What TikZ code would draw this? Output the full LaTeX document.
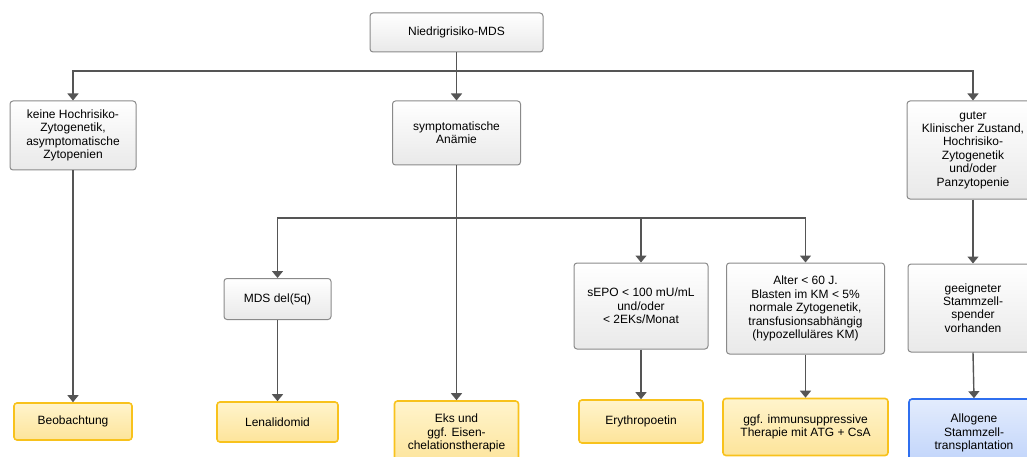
\documentclass[tikz,border=0pt]{standalone}
\usepackage{fontspec}
\setmainfont{Liberation Sans}
\usetikzlibrary{arrows.meta}

\definecolor{lineGrey}{HTML}{555555}
\definecolor{boxBorder}{HTML}{8A8A8A}
\definecolor{boxFill}{HTML}{E9E9E9}
\definecolor{yellowBorder}{HTML}{F8C21C}
\definecolor{yellowTop}{HTML}{FFF4CC}
\definecolor{yellowBottom}{HTML}{FDE49A}
\definecolor{blueBorder}{HTML}{2F6FEF}
\definecolor{blueTop}{HTML}{E3ECFD}
\definecolor{blueBottom}{HTML}{BFD3FA}

\begin{document}
\begin{tikzpicture}
[x=1pt,y=-1pt,
  boxDecorate/.style={shape=rectangle,rounded corners=3pt,draw=boxBorder,line width=1pt,
    top color=white,bottom color=boxFill,align=center,inner sep=2pt,
    font=\fontsize{12}{13.4}\selectfont},
  yellowDecorate/.style={boxDecorate,draw=yellowBorder,line width=1.6pt,
    top color=yellowTop,bottom color=yellowBottom},
  blueDecorate/.style={boxDecorate,draw=blueBorder,line width=1.6pt,
    top color=blueTop,bottom color=blueBottom},
  lineDecorate/.style={-{Triangle[width=11pt,length=7pt]},line width=1.4pt,draw=lineGrey},
  busDecorate/.style={-,line width=1.4pt,draw=lineGrey}]
\useasboundingbox (0,0) rectangle (1027,457);
\clip (0,0) rectangle (1027,457);
%% decision boxes
\node (root) at (456.5,32.5) [boxDecorate,minimum width=173pt,minimum height=39pt] {Niedrigrisiko-MDS};
\node (keine) at (73,135.5) [boxDecorate,minimum width=126pt,minimum height=69pt]
  {keine Hochrisiko-\\Zytogenetik,\\asymptomatische\\Zytopenien};
\node (sympt) at (456.5,133) [boxDecorate,minimum width=128pt,minimum height=64pt]
  {symptomatische\\An\"amie};
\node (guter) at (973,150) [boxDecorate,minimum width=132pt,minimum height=98pt]
  {guter\\Klinischer Zustand,\\Hochrisiko-\\Zytogenetik\\und/oder\\Panzytopenie};
\node (del5q) at (277.5,299) [boxDecorate,minimum width=107pt,minimum height=41pt] {MDS del(5q)};
\node (sepo) at (641,306) [boxDecorate,minimum width=134pt,minimum height=86pt]
  {sEPO < 100 mU/mL\\und/oder\\< 2EKs/Monat};
\node (alter) at (805.5,308.5) [boxDecorate,minimum width=158pt,minimum height=91pt]
  {Alter < 60 J.\\Blasten im KM < 5\%\\normale Zytogenetik,\\transfusionsabh\"angig\\(hypozellul\"ares KM)};
\node (geeig) at (973,308) [boxDecorate,minimum width=130pt,minimum height=88pt]
  {geeigneter\\Stammzell-\\spender\\vorhanden};
%% therapy boxes
\node (beob) at (73,421.5) [yellowDecorate,minimum width=118pt,minimum height=37pt] {Beobachtung};
\node (lenal) at (277.5,422) [yellowDecorate,minimum width=121pt,minimum height=40pt] {Lenalidomid};
\node (eks) at (456.5,433) [yellowDecorate,minimum width=124pt,minimum height=64pt]
  {Eks und\\ggf. Eisen-\\chelationstherapie};
\node (ery) at (641,421.5) [yellowDecorate,minimum width=124pt,minimum height=43pt] {Erythropoetin};
\node (immun) at (805.5,427) [yellowDecorate,minimum width=165pt,minimum height=57pt]
  {ggf. immunsuppressive\\Therapie mit ATG + CsA};
\node (allog) at (974,433) [blueDecorate,minimum width=130pt,minimum height=68pt]
  {Allogene\\Stammzell-\\transplantation};
%% bus points
\coordinate (busA) at (456.5,71);
\coordinate (busB) at (456.5,218);
%% edges or lines
\path
\foreach \startnode/\endnode in {
  root/sympt, sympt/eks, keine/beob, del5q/lenal, sepo/ery, alter/immun,
  guter/geeig, geeig/allog}
{
  (\startnode.south) edge[lineDecorate] (\endnode.north)
};
\draw[lineDecorate] (busA) -| (keine.north);
\draw[lineDecorate] (busA) -| (guter.north);
\draw[lineDecorate] (busB) -| (del5q.north);
\draw[lineDecorate] (busB) -| (sepo.north);
\draw[lineDecorate] (busB) -| (alter.north);
\end{tikzpicture}
\end{document}
